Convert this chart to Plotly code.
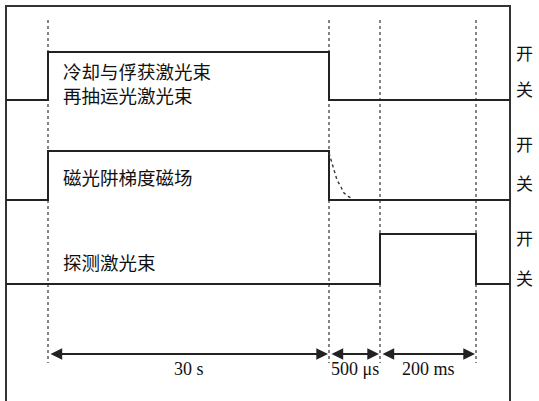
import plotly.graph_objects as go

# ---- schematic data (diagram units: x = time axis position, y = level position) ----
t_marks = [48, 329, 380, 476]          # dotted time markers
x_start, x_end = 6, 510                # extent of the traces

ch_low = [100, 200, 284]
ch_high = [52, 151, 234]
ch_on = [48, 48, 380]
ch_off = [329, 329, 476]

label_texts = ["冷却与俘获激光束<br>再抽运光激光束", "磁光阱梯度磁场", "探测激光束"]
label_y = [83, 177, 262]

kai_y = [52, 143, 237]
guan_y = [88, 182, 277]

decay_x = [329, 331, 333, 335, 337, 341, 344, 349, 353]
decay_y = [153, 160, 167, 173, 180, 187, 193, 197, 199]

spans = [(48, 329, "30 s"), (329, 380, "500 μs"), (380, 476, "200 ms")]
span_y = 354
span_label_y = 369

fig = go.Figure()

LINE = "#222222"
# frame
fig.add_trace(go.Scatter(x=[6, 6, 510, 510], y=[401, 6, 6, 401], mode="lines",
                         line=dict(color="#333333", width=2), hoverinfo="skip"))

# dotted markers
for t in t_marks:
    fig.add_trace(go.Scatter(x=[t, t], y=[20, 363], mode="lines",
                             line=dict(color="#333333", width=1.2, dash="dot"), hoverinfo="skip"))

# channels
for lo, hi, on, off in zip(ch_low, ch_high, ch_on, ch_off):
    xs = [x_start, on, on, off, off, x_end]
    ys = [lo, lo, hi, hi, lo, lo]
    fig.add_trace(go.Scatter(x=xs, y=ys, mode="lines",
                             line=dict(color=LINE, width=2), hoverinfo="skip"))

fig.add_trace(go.Scatter(x=decay_x, y=decay_y, mode="lines",
                         line=dict(color="#333333", width=1.4, dash="dot"), hoverinfo="skip"))

annotations = []
for name, y in zip(label_texts, label_y):
    annotations.append(dict(x=61, y=y, text=name, showarrow=False, xanchor="left", yanchor="middle",
                            align="left", font=dict(family="Noto Sans CJK SC", size=18.5, color="#111")))
for ky, gy in zip(kai_y, guan_y):
    for txt, y in (("开", ky), ("关", gy)):
        annotations.append(dict(x=524, y=y, text=txt, showarrow=False, xanchor="center", yanchor="middle",
                                font=dict(family="Noto Sans CJK SC", size=17, color="#111")))

for a, b, txt in spans:
    annotations.append(dict(x=b - 1, y=span_y, ax=a + 1, ay=span_y, axref="x", ayref="y",
                            xref="x", yref="y", text="", showarrow=True, arrowhead=2, startarrowhead=2,
                            arrowside="end+start", arrowsize=1.3, startarrowsize=1.3, arrowwidth=1.8,
                            arrowcolor=LINE, standoff=0, startstandoff=0))
    annotations.append(dict(x=(a + b) / 2, y=span_label_y, text=txt, showarrow=False,
                            xanchor="center", yanchor="middle",
                            font=dict(family="Liberation Serif", size=18, color="#111")))

fig.update_layout(
    width=539, height=401, margin=dict(l=0, r=0, t=0, b=0),
    paper_bgcolor="white", plot_bgcolor="white", showlegend=False,
    xaxis=dict(range=[0, 539], visible=False, fixedrange=True),
    yaxis=dict(range=[401, 0], visible=False, fixedrange=True),
    annotations=annotations,
)

fig.write_html("out.html", config={"displayModeBar": False},
               post_script="document.body.style.margin='0';document.body.style.overflow='hidden';")
